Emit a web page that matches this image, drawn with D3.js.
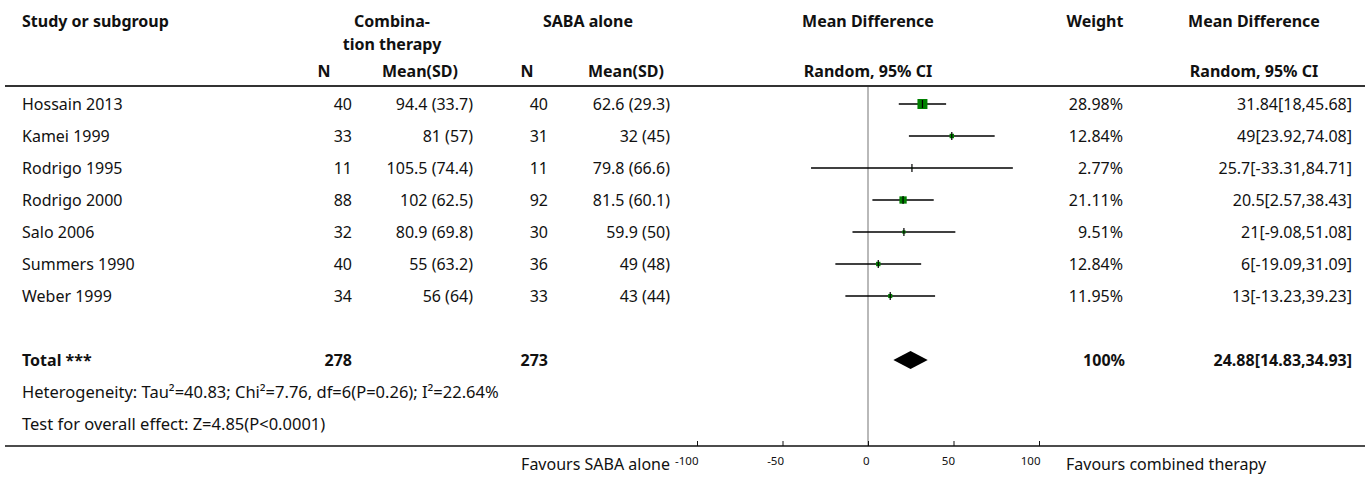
<!DOCTYPE html>
<html>
<head>
<meta charset="utf-8">
<script src="https://cdn.jsdelivr.net/npm/d3@7"></script>
<style>
  body { margin: 0; background: #fff; }
  svg text { font-family: "Noto Sans", sans-serif; fill: #111; }
</style>
</head>
<body>
<script>
/***********************************************************************************/
// Data

var studies    = ['Hossain 2013', 'Kamei 1999', 'Rodrigo 1995', 'Rodrigo 2000', 'Salo 2006', 'Summers 1990', 'Weber 1999'];
var comboN     = [40, 33, 11, 88, 32, 40, 34];
var comboMean  = [94.4, 81, 105.5, 102, 80.9, 55, 56];
var comboSD    = [33.7, 57, 74.4, 62.5, 69.8, 63.2, 64];
var sabaN      = [40, 31, 11, 92, 30, 36, 33];
var sabaMean   = [62.6, 32, 79.8, 81.5, 59.9, 49, 43];
var sabaSD     = [29.3, 45, 66.6, 60.1, 50, 48, 44];
var mdValue    = [31.84, 49, 25.7, 20.5, 21, 6, 13];
var mdLow      = [18, 23.92, -33.31, 2.57, -9.08, -19.09, -13.23];
var mdHigh     = [45.68, 74.08, 84.71, 38.43, 51.08, 31.09, 39.23];
var weights    = [28.98, 12.84, 2.77, 21.11, 9.51, 12.84, 11.95];

var totalN     = [278, 273];
var totalMD    = [24.88, 14.83, 34.93];   // estimate, low, high
var totalWeight = '100%';
var heterogeneity = 'Heterogeneity: Tau\u00b2=40.83; Chi\u00b2=7.76, df=6(P=0.26); I\u00b2=22.64%';
var overallTest   = 'Test for overall effect: Z=4.85(P<0.0001)';
var axisTicks  = [-100, -50, 0, 50, 100];
var favourLeft = 'Favours SABA alone';
var favourRight = 'Favours combined therapy';

/***********************************************************************************/
// Setup

var W = 1370, H = 478;
var svg = d3.select('body').append('svg').attr('width', W).attr('height', H);

var x = d3.scaleLinear().domain([-100, 100]).range([697, 1039]);
var y = d3.scaleBand().domain(d3.range(11)).range([88, 440]);
var cy = function(i){ return y(i) + y.bandwidth() / 2; };
var boxSize = d3.scaleLinear().domain([0, 29]).range([0, 10]);

var col = { name: 22, n1: 352, m1: 473, n2: 548, m2: 670, weight: 1123, ci: 1352 };
var FS = 16;

function txt(g, xx, yy, s, anchor, bold, size){
  return g.append('text')
    .attr('x', xx).attr('y', yy)
    .attr('text-anchor', anchor || 'start')
    .style('font-size', (size || FS) + 'px')
    .style('font-weight', bold ? 700 : 400)
    .text(s);
}

/***********************************************************************************/
// Header

var head = svg.append('g');
txt(head, col.name, 27, 'Study or subgroup', 'start', true);
txt(head, 392, 27, 'Combina-', 'middle', true);
txt(head, 392, 50, 'tion therapy', 'middle', true);
txt(head, 588, 27, 'SABA alone', 'middle', true);
txt(head, x(0), 27, 'Mean Difference', 'middle', true);
txt(head, 1095, 27, 'Weight', 'middle', true);
txt(head, 1254, 27, 'Mean Difference', 'middle', true);

txt(head, 324, 77, 'N', 'middle', true);
txt(head, 420, 77, 'Mean(SD)', 'middle', true);
txt(head, 527, 77, 'N', 'middle', true);
txt(head, 626, 77, 'Mean(SD)', 'middle', true);
txt(head, x(0), 77, 'Random, 95% CI', 'middle', true);
txt(head, 1254, 77, 'Random, 95% CI', 'middle', true);

svg.append('line').attr('x1', 5).attr('x2', 1365).attr('y1', 86).attr('y2', 86)
  .attr('stroke', '#333').attr('stroke-width', 2);

/***********************************************************************************/
// Zero line

svg.append('line').attr('x1', x(0)).attr('x2', x(0)).attr('y1', 87).attr('y2', 446)
  .attr('stroke', '#8a8a8a').attr('stroke-width', 1.2);

/***********************************************************************************/
// Study rows

var base = 0.36 * FS;
var rows = svg.append('g');
studies.forEach(function(s, i){
  var yy = cy(i) + base;
  txt(rows, col.name, yy, s);
  txt(rows, col.n1, yy, comboN[i], 'end');
  txt(rows, col.m1, yy, comboMean[i] + ' (' + comboSD[i] + ')', 'end');
  txt(rows, col.n2, yy, sabaN[i], 'end');
  txt(rows, col.m2, yy, sabaMean[i] + ' (' + sabaSD[i] + ')', 'end');
  txt(rows, col.weight, yy, weights[i] + '%', 'end');
  txt(rows, col.ci, yy, mdValue[i] + '[' + mdLow[i] + ',' + mdHigh[i] + ']', 'end');
});

var marks = svg.append('g').selectAll('g').data(studies).join('g');
marks.append('line')
  .attr('x1', function(d, i){ return x(mdLow[i]); })
  .attr('x2', function(d, i){ return x(mdHigh[i]); })
  .attr('y1', function(d, i){ return cy(i); })
  .attr('y2', function(d, i){ return cy(i); })
  .attr('stroke', '#000').attr('stroke-width', 1.4);
marks.append('rect')
  .attr('x', function(d, i){ return x(mdValue[i]) - boxSize(weights[i]) / 2; })
  .attr('y', function(d, i){ return cy(i) - boxSize(weights[i]) / 2; })
  .attr('width', function(d, i){ return boxSize(weights[i]); })
  .attr('height', function(d, i){ return boxSize(weights[i]); })
  .attr('fill', '#008000');
marks.append('line')
  .attr('x1', function(d, i){ return x(mdValue[i]); })
  .attr('x2', function(d, i){ return x(mdValue[i]); })
  .attr('y1', function(d, i){ return cy(i) - 4; })
  .attr('y2', function(d, i){ return cy(i) + 4; })
  .attr('stroke', '#000').attr('stroke-width', 1.2);

/***********************************************************************************/
// Total and footnotes

var ty = cy(8);
txt(rows, col.name, ty + base, 'Total ***', 'start', true);
txt(rows, col.n1, ty + base, totalN[0], 'end', true);
txt(rows, col.n2, ty + base, totalN[1], 'end', true);
txt(rows, col.weight + 2, ty + base, totalWeight, 'end', true);
txt(rows, col.ci, ty + base, totalMD[0] + '[' + totalMD[1] + ',' + totalMD[2] + ']', 'end', true);

svg.append('path')
  .attr('d', 'M' + x(totalMD[1]) + ',' + ty +
             'L' + x(totalMD[0]) + ',' + (ty - 9) +
             'L' + x(totalMD[2]) + ',' + ty +
             'L' + x(totalMD[0]) + ',' + (ty + 9) + 'Z')
  .attr('fill', '#000');

txt(rows, col.name, cy(9) + base, heterogeneity, 'start', false, 16.5);
txt(rows, col.name, cy(10) + base, overallTest, 'start', false, 16.5);

/***********************************************************************************/
// Axis

var axisY = 446;
svg.append('line').attr('x1', 5).attr('x2', 1365).attr('y1', axisY).attr('y2', axisY)
  .attr('stroke', '#111').attr('stroke-width', 1.6);

var axis = svg.append('g').attr('transform', 'translate(0,' + axisY + ')')
  .call(d3.axisBottom(x).tickValues(axisTicks).tickSize(-5).tickPadding(11)
    .tickFormat(function(d){ return String(d); }));
axis.select('.domain').remove();
axis.selectAll('.tick line').attr('stroke', '#111');
axis.selectAll('.tick text')
  .attr('text-anchor', 'end').attr('x', 1)
  .style('font-family', '"Noto Sans", sans-serif')
  .style('font-size', '11.5px').attr('fill', '#222');

txt(svg, 670, 470, favourLeft, 'end');
txt(svg, 1066, 470, favourRight, 'start');
</script>
</body>
</html>
